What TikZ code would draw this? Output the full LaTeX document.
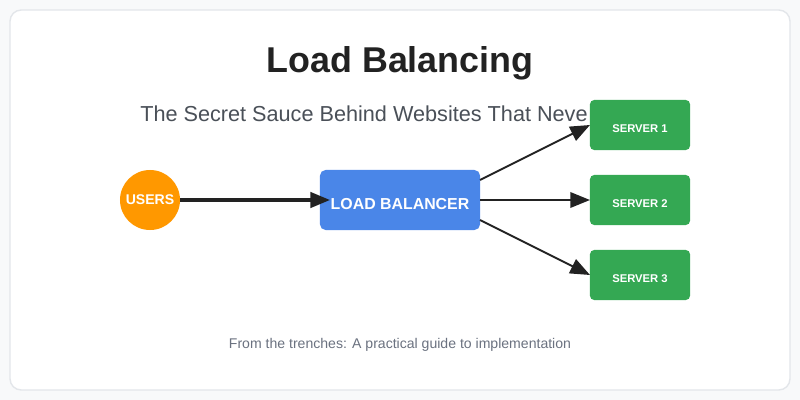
\documentclass[tikz,border=0pt]{standalone}
\usepackage{fontspec}
\setmainfont{Liberation Sans}
\usetikzlibrary{arrows.meta}
\definecolor{bg}{HTML}{F8F9FA}
\definecolor{cardb}{HTML}{E3E6EA}
\definecolor{usr}{HTML}{FF9800}
\definecolor{lbc}{HTML}{4A86E8}
\definecolor{srv}{HTML}{34A853}
\definecolor{ttl}{HTML}{222222}
\definecolor{sub}{HTML}{4A5058}
\definecolor{foot}{HTML}{6B7280}
\begin{document}
\begin{tikzpicture}[x=0.025cm,y=-0.025cm,
  server/.style={fill=srv,rounded corners=3pt,minimum width=2.5cm,minimum height=1.25cm,inner sep=0},
  stext/.style={text=white,font=\fontsize{8}{9}\selectfont\bfseries,inner sep=0},
  conn/.style={draw=ttl,line width=1.4pt,-{Triangle[length=14pt,width=11pt]}}]
\fill[bg] (0,0) rectangle (800,400);
\draw[cardb,fill=white,rounded corners=8pt,line width=1pt] (10,10) rectangle (790,390);
\node[text=ttl,font=\fontsize{25.5}{30}\selectfont\bfseries] (title) at (400,63) {Load Balancing};
\node[text=sub,font=\fontsize{15.4}{18}\selectfont,anchor=west,inner sep=0] (subt) at (140,114) {The Secret Sauce Behind Websites That Neve};
\node[circle,fill=usr,minimum size=1.5cm,inner sep=0,text=white,font=\fontsize{10}{12}\selectfont\bfseries] (users) at (150,200) {USERS};
\node[fill=lbc,rounded corners=4pt,minimum width=4cm,minimum height=1.5cm,inner sep=0] (lb) at (400,200) {};
\node[text=white,font=\fontsize{11.3}{13}\selectfont\bfseries,inner sep=0] (lbt) at (400,204) {LOAD BALANCER};
\node[server] (s1) at (640,125) {};
\node[server] (s2) at (640,200) {};
\node[server] (s3) at (640,275) {};
\node[stext] (t1) at (640,128.5) {SERVER 1};
\node[stext] (t2) at (640,203.5) {SERVER 2};
\node[stext] (t3) at (640,278.5) {SERVER 3};
\coordinate (u1) at (180,200); \coordinate (u2) at (330,200);
\draw[conn,line width=2.2pt] (u1) -- (u2);
\coordinate (a1) at (480,180); \coordinate (b1) at (590,125);
\coordinate (a2) at (480,200); \coordinate (b2) at (590,200);
\coordinate (a3) at (480,220); \coordinate (b3) at (590,275);
\draw[conn] (a1) -- (b1);
\draw[conn] (a2) -- (b2);
\draw[conn] (a3) -- (b3);
\node[text=foot,font=\fontsize{10}{12}\selectfont] (ft) at (400,345) {From the trenches: A practical guide to implementation};
\end{tikzpicture}
\end{document}
